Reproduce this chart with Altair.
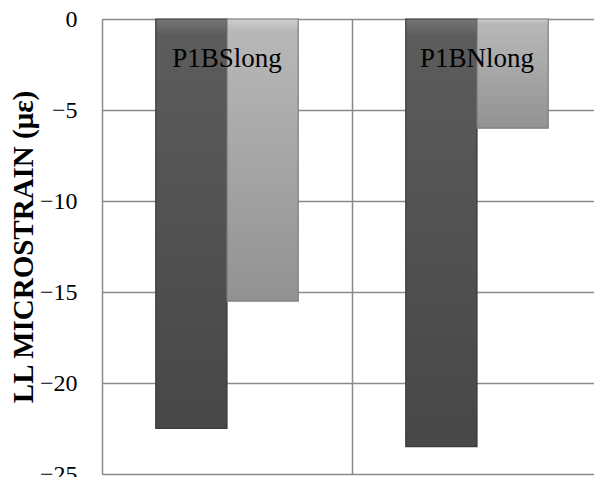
import altair as alt
import pandas as pd

groups = ["P1BSlong", "P1BNlong"]
series = ["dark", "light"]
dark_values = [-22.5, -23.5]
light_values = [-15.5, -6.0]
y_ticks = [0, -5, -10, -15, -20, -25]

rows = []
for g, v in zip(groups, dark_values):
    rows.append({"group": g, "series": "dark", "value": v})
for g, v in zip(groups, light_values):
    rows.append({"group": g, "series": "light", "value": v})
df = pd.DataFrame(rows)
lab = pd.DataFrame({"group": groups})

FONT = "Liberation Serif"
GRID = "#8a8a8a"
H = 455

x_enc = alt.X(
    "group:N",
    sort=groups,
    scale=alt.Scale(paddingInner=0, paddingOuter=0, range=[0, 500]),
    axis=alt.Axis(labels=False, ticks=False, domain=False, grid=True,
                  bandPosition=0, gridColor=GRID, gridWidth=1.5, title=None),
)
xoff = alt.XOffset("series:N", sort=series,
                   scale=alt.Scale(domain=series, paddingInner=0, paddingOuter=0.755))
y_enc = alt.Y(
    "value:Q",
    scale=alt.Scale(domain=[-25, 0], nice=False),
    axis=alt.Axis(values=y_ticks, labelFont=FONT, labelFontSize=24, labelColor="black",
                  labelPadding=25, ticks=False, domain=False, grid=True,
                  gridColor=GRID, gridWidth=1.5,
                  title="LL MICROSTRAIN (με)", titleFont=FONT, titleFontSize=29,
                  titleFontWeight="bold", titleColor="black", titleAngle=270,
                  titleX=-70, titleY=H / 2, titleAlign="center", titleBaseline="alphabetic"),
)

def grad(c1, c2, c3):
    return alt.Gradient(
        gradient="linear",
        stops=[alt.GradientStop(offset=0, color=c1),
               alt.GradientStop(offset=0.04, color=c2),
               alt.GradientStop(offset=1, color=c3)],
        x1=0, x2=0, y1=0, y2=1,
    )

base = alt.Chart(df)
dark = base.transform_filter(alt.datum.series == "dark").mark_bar(
    fill=grad("#767676", "#5c5c5c", "#474747"), stroke="#3a3a3a", strokeWidth=1.2
).encode(x=x_enc, xOffset=xoff, y=y_enc)
light = base.transform_filter(alt.datum.series == "light").mark_bar(
    fill=grad("#cfcfcf", "#b8b8b8", "#929292"), stroke="#7e7e7e", strokeWidth=1.2
).encode(x=x_enc, xOffset=xoff, y=y_enc)

labels = alt.Chart(lab).mark_text(
    font=FONT, fontSize=27, color="black", baseline="alphabetic", dy=48
).encode(x=alt.X("group:N", sort=groups), y=alt.datum(0), text="group:N")

chart = alt.layer(dark, light, labels).properties(
    width=492, height=H,
    autosize=alt.AutoSizeParams(type="none"),
    padding={"left": 94, "top": 11, "right": 0, "bottom": 3},
).configure_view(strokeWidth=0).configure(background="white")

chart.save("out.html", embed_options={"renderer": "svg", "actions": False})
